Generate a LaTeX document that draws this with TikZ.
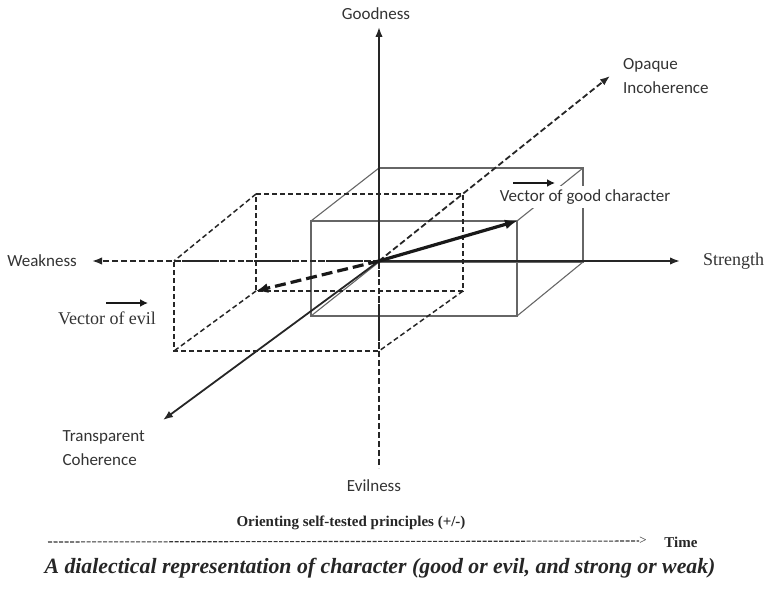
\documentclass[tikz,border=0pt]{standalone}
\usepackage{fontspec}
\setmainfont{Liberation Serif}
\newfontfamily\labelfont{Carlito}
\usetikzlibrary{arrows.meta}
\usetikzlibrary{positioning}

\tikzset{
	axis/.style={draw=black!85, line width=1.8pt, -{Latex[length=10pt,width=7.5pt]}},
	dashaxis/.style={axis, dash pattern=on 6pt off 3pt},
	boxline/.style={draw=black!60, line width=1.1pt},
	dashbox/.style={draw=black!85, line width=1.5pt, dash pattern=on 5pt off 3pt},
	vecline/.style={draw=black!90, line width=3.2pt, -{Latex[length=12pt,width=10pt]}},
	keyarrow/.style={draw=black!90, line width=2.2pt, -{Latex[length=8pt,width=8pt]}},
	sanslabel/.style={font=\labelfont\fontsize{17}{24}\selectfont, text=black!80, inner sep=1pt},
	seriflabel/.style={font=\fontsize{18}{21}\selectfont, text=black!80, inner sep=1pt}
}

\begin{document}
\begin{tikzpicture}[x=1pt,y=-1pt,node distance=0]
				    \useasboundingbox (0,0) rectangle (768,596);
				    % Place points
				    \coordinate (o) at (379,261);
				    \coordinate (gtip) at (379,27);
				    \coordinate (etip) at (379,468);
				    \coordinate (stip) at (680,261);
				    \coordinate (wtip) at (92,261);
				    \coordinate (otip) at (610,76);
				    \coordinate (ttip) at (163,420);
				    % solid box
				    \coordinate (b1) at (379,168);
				    \coordinate (b2) at (583,168);
				    \coordinate (b3) at (583,262);
				    \coordinate (b4) at (379,262);
				    \coordinate (f1) at (311,221);
				    \coordinate (f2) at (517,221);
				    \coordinate (f3) at (517,316);
				    \coordinate (f4) at (311,316);
				    % dashed box
				    \coordinate (d1) at (256,194);
				    \coordinate (d2) at (463,194);
				    \coordinate (d3) at (463,291);
				    \coordinate (d4) at (256,291);
				    \coordinate (e1) at (174,261);
				    \coordinate (e2) at (379,261);
				    \coordinate (e3) at (379,351);
				    \coordinate (e4) at (174,351);
				
				    % Draw boxes
				    \draw[boxline] (b1) -- (b2) -- (b3) -- (b4) -- cycle;
				    \draw[boxline] (f1) -- (f2) -- (f3) -- (f4) -- cycle;
				    \draw[boxline] (b1) -- (f1) (b2) -- (f2) (b3) -- (f3) (b4) -- (f4);
				    \draw[dashbox] (d1) -- (d2) -- (d3) -- (d4) -- cycle;
				    \draw[dashbox] (e1) -- (e2) -- (e3) -- (e4) -- cycle;
				    \draw[dashbox] (d1) -- (e1) (d3) -- (e3) (d4) -- (e4);
				
				    % Draw axes
				    \draw[axis] (o) -- (gtip);
				    \draw[dashaxis,-] (o) -- (etip);
				    \draw[axis] (o) -- (stip);
				    \draw[dashaxis] (o) -- (wtip);
				    \draw[dashaxis] (o) -- (otip);
				    \draw[axis] (o) -- (ttip);
				
				    % Draw vectors
				    \draw[vecline] (o) -- (f2);
				    \draw[vecline, dash pattern=on 11pt off 5pt] (o) -- (d4);
				
				    % Place nodes
				    \node[sanslabel, above=6pt of gtip, xshift=-3pt] (goodness) {Goodness};
				    \node[sanslabel, below=10pt of etip, xshift=-5pt] (evilness) {Evilness};
				    \node[seriflabel, right=22pt of stip] (strength) {Strength};
				    \node[sanslabel, left=14pt of wtip] (weakness) {Weakness};
				    \node[sanslabel, align=left, right=12pt of otip] (opaque) {Opaque\\Incoherence};
				    \node[sanslabel, align=left, below left=9pt and 17pt of ttip] (transparent) {Transparent\\Coherence};
				    \node[sanslabel, fill=white, inner sep=4pt] (goodvec) at (585,197) {Vector of good character};
				    \node[seriflabel] (evilvec) at (107,318) {Vector of evil};
				    \coordinate (gk1) at (513,183);
				    \coordinate (gk2) at (555,183);
				    \coordinate (ek1) at (106,303);
				    \coordinate (ek2) at (148,303);
				    \draw[keyarrow] (gk1) -- (gk2);
				    \draw[keyarrow] (ek1) -- (ek2);
				
				    % Time line
				    \node[font=\bfseries\fontsize{15}{18}\selectfont, text=black!85] (orient) at (351,523) {Orienting self-tested principles (+/-)};
				    \coordinate (tstart) at (48,542);
				    \node[font=\fontsize{13}{15}\selectfont, text=black!85, inner sep=0pt] (gt) at (643,541) {>};
				    \node[font=\bfseries\fontsize{15}{17}\selectfont, text=black!85] (time) at (681,542) {Time};
				    \draw[draw=black!80, line width=1.1pt, dash pattern=on 4pt off 1.5pt] (tstart) -- (gt);
				    \node[font=\bfseries\itshape\fontsize{21.8}{26}\selectfont, text=black!85] (caption) at (380,568) {A dialectical representation of character (good or evil, and strong or weak)};
				
				\end{tikzpicture}
\end{document}
